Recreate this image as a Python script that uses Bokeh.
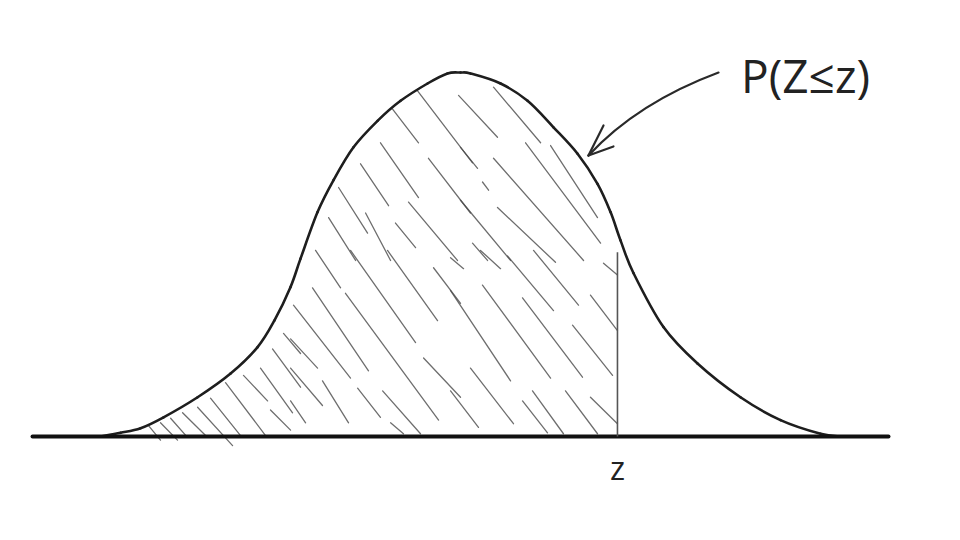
from bokeh.plotting import figure
from bokeh.models import Range1d
from bokeh.embed import file_html
from bokeh.resources import INLINE
from bokeh.core.properties import value

# Sketched standard normal density (x in z-units, y = density)
curve_x = [-2.707, -2.556, -2.406, -2.233, -1.977, -1.729, -1.526, -1.400, -1.278, -1.203,
           -1.075, -0.955, -0.805, -0.624, -0.451, -0.248, -0.098, 0.0, 0.075, 0.301,
           0.504, 0.699, 0.880, 1.030, 1.128, 1.203, 1.301, 1.526, 1.782, 2.105,
           2.406, 2.707, 2.857]
curve_y = [0.0, 0.004, 0.009, 0.021, 0.043, 0.069, 0.098, 0.127, 0.164, 0.195,
           0.246, 0.281, 0.317, 0.346, 0.368, 0.387, 0.398, 0.399, 0.398, 0.387,
           0.368, 0.339, 0.310, 0.277, 0.246, 0.215, 0.179, 0.120, 0.080, 0.043,
           0.018, 0.003, 0.0]

# Axis (baseline) extent and the cut-off value z
axis_x = [-3.218, 3.218]
z_value = 1.180
z_line_top = 0.202
z_label = "z"
prob_label = "P(Z≤z)"
prob_label_pos = (2.594, 0.396)
z_label_y = -0.034

# Arrow from the label to the curve: start, control, tip, barb ends
arrow_start = (1.940, 0.399)
arrow_ctrl = (1.331, 0.366)
arrow_tip = (0.962, 0.308)
arrow_barbs_x = [1.075, 1.150]
arrow_barbs_y = [0.341, 0.318]

# Hand-drawn hatch strokes under the curve (x0, y0) -> (x1, y1)
hatch_x0 = [-0.511, -0.323, -0.015, -0.602, -0.752, -0.241, -0.917, -0.992, -0.714, -0.391,
            -0.489, -1.090, 0.248, 0.489, 0.677, 0.0, 0.248, 0.165, 0.0, 0.278,
            0.090, 0.549, -0.075, 0.165, 0.466, 0.977, 0.842, 0.075, -0.075, 0.466,
            0.541, 0.789, 0.977, 0.353, 1.075, 0.150, -0.075, -0.827, -0.549, -0.203,
            -1.113, -0.865, -1.256, -1.278, -0.278, -1.278, -1.038, -0.774, -0.586, -0.526,
            -1.331, -1.414, -1.504, -1.632, -1.767, -1.880, -1.977, -2.090, -2.180, -2.256,
            -2.346, -1.429, -1.278]
hatch_y0 = [0.359, 0.379, 0.374, 0.322, 0.299, 0.305, 0.273, 0.240, 0.245, 0.257,
            0.234, 0.204, 0.383, 0.322, 0.319, 0.317, 0.305, 0.279, 0.259, 0.251,
            0.212, 0.204, 0.160, 0.166, 0.152, 0.155, 0.122, 0.075, 0.050, 0.039,
            0.050, 0.050, 0.043, 0.198, 0.190, 0.204, 0.196, 0.204, 0.204, 0.185,
            0.163, 0.157, 0.144, 0.107, 0.086, 0.075, 0.061, 0.053, 0.050, 0.015,
            0.113, 0.096, 0.075, 0.067, 0.059, 0.042, 0.032, 0.026, 0.020, 0.015,
            0.012, 0.029, 0.039]
hatch_x1 = [-0.316, 0.090, 0.278, -0.316, -0.541, 0.075, -0.699, -0.789, -0.526, -0.023,
            -0.338, -0.902, 0.602, 1.053, 1.030, 0.128, 0.925, 0.211, 0.376, 0.714,
            0.203, 0.887, 0.376, 0.677, 0.917, 1.180, 1.143, 0.398, 0.135, 0.654,
            0.774, 1.030, 1.180, 0.699, 1.180, 0.301, 0.023, -0.338, -0.173, 0.0,
            -0.692, -0.165, -0.827, -1.075, 0.0, -1.038, -0.842, -0.602, -0.301, -0.429,
            -1.203, -1.203, -1.263, -1.451, -1.466, -1.654, -1.714, -1.917, -2.053, -2.128,
            -2.256, -1.278, -1.165]
hatch_y1 = [0.322, 0.300, 0.328, 0.262, 0.253, 0.245, 0.223, 0.193, 0.193, 0.193,
            0.207, 0.163, 0.322, 0.212, 0.240, 0.294, 0.193, 0.270, 0.193, 0.191,
            0.193, 0.144, 0.061, 0.064, 0.065, 0.116, 0.067, 0.014, 0.010, 0.004,
            0.003, 0.003, 0.014, 0.138, 0.177, 0.184, 0.184, 0.103, 0.127, 0.146,
            0.072, 0.018, 0.064, 0.075, 0.043, 0.034, 0.015, 0.021, 0.003, 0.003,
            0.091, 0.054, 0.026, 0.039, 0.001, 0.001, -0.010, 0.001, -0.001, -0.004,
            -0.004, 0.007, 0.015]

p = figure(width=944, height=524, output_backend="svg", toolbar_location=None,
           x_range=Range1d(-3.459, 3.639), y_range=Range1d(-0.0965, 0.478),
           x_axis_location=None, y_axis_location=None, min_border=0,
           background_fill_color="white", border_fill_color="white")
p.grid.visible = False
p.outline_line_color = None

# hatch strokes
p.segment(hatch_x0, hatch_y0, hatch_x1, hatch_y1, line_color="#4a4a4a",
          line_alpha=0.8, line_width=1.3, line_cap="round")

# density curve drawn as a smooth spline through the read points (Catmull-Rom -> Bezier)
n = len(curve_x)
bx0, by0, bx1, by1, c0x, c0y, c1x, c1y = [], [], [], [], [], [], [], []
for i in range(n - 1):
    xm, ym = (curve_x[i - 1], curve_y[i - 1]) if i > 0 else (curve_x[i], curve_y[i])
    xp, yp = (curve_x[i + 2], curve_y[i + 2]) if i + 2 < n else (curve_x[i + 1], curve_y[i + 1])
    bx0.append(curve_x[i]); by0.append(curve_y[i])
    bx1.append(curve_x[i + 1]); by1.append(curve_y[i + 1])
    c0x.append(curve_x[i] + (curve_x[i + 1] - xm) / 6.0)
    c0y.append(curve_y[i] + (curve_y[i + 1] - ym) / 6.0)
    c1x.append(curve_x[i + 1] - (xp - curve_x[i]) / 6.0)
    c1y.append(curve_y[i + 1] - (yp - curve_y[i]) / 6.0)
p.bezier(x0=bx0, y0=by0, x1=bx1, y1=by1, cx0=c0x, cy0=c0y, cx1=c1x, cy1=c1y,
         line_color="#1e1e1e", line_width=2.6, line_cap="round")

# baseline
p.segment([axis_x[0]], [0], [axis_x[1]], [0], line_color="#111111", line_width=4,
          line_cap="round")

# cut-off line at z
p.segment([z_value], [0], [z_value], [z_line_top], line_color="#555555", line_width=1.6)

# labels
p.text([z_value], [z_label_y], text=[z_label], text_font=value("Open Sans"),
       text_font_size="32px", text_color="#222222", text_align="center",
       text_baseline="middle")
p.text([prob_label_pos[0]], [prob_label_pos[1]], text=[prob_label],
       text_font=value("Open Sans"), text_font_size="46px", text_color="#222222",
       text_align="center", text_baseline="middle")

# curved arrow
p.quadratic(x0=[arrow_start[0]], y0=[arrow_start[1]], x1=[arrow_tip[0]], y1=[arrow_tip[1]],
            cx=[arrow_ctrl[0]], cy=[arrow_ctrl[1]], line_color="#2a2a2a", line_width=2.2,
            line_cap="round")
p.segment([arrow_tip[0]] * 2, [arrow_tip[1]] * 2, arrow_barbs_x, arrow_barbs_y,
          line_color="#2a2a2a", line_width=2.2, line_cap="round")

open("out.html", "w").write(file_html(p, INLINE))
